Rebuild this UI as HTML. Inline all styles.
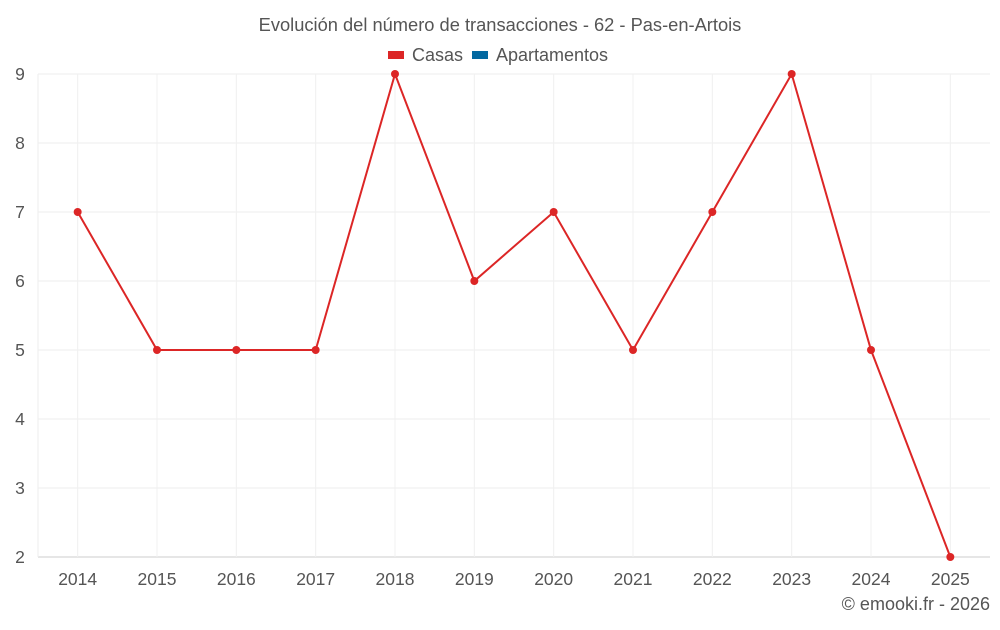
<!DOCTYPE html>
<html><head><meta charset="utf-8"><style>
body{margin:0;background:#fff;font-family:"Liberation Sans",sans-serif;}
svg text{font-family:"Liberation Sans",sans-serif;fill:#555;}
</style></head><body>
<svg id="c" width="1000" height="625">
<text x="500" y="31" text-anchor="middle" font-size="18.3">Evolución del número de transacciones - 62 - Pas-en-Artois</text>
<g>
<g><rect x="388" y="51" width="16" height="8" fill="#dc2626"/><text x="412" y="61" font-size="18">Casas</text></g>
<g><rect x="472" y="51" width="16" height="8" fill="#0369a1"/><text x="496" y="61" font-size="18">Apartamentos</text></g>
</g>
<g id="grid"></g><g id="axes"></g><g id="series"></g>
<text x="990" y="610" text-anchor="end" font-size="18">© emooki.fr - 2026</text>
</svg>
<script>
const years=["2014","2015","2016","2017","2018","2019","2020","2021","2022","2023","2024","2025"];
const casas=[7,5,5,5,9,6,7,5,7,9,5,2];
const yTicks=[2,3,4,5,6,7,8,9];
const L=38,R=990,T=74,B=557,yMin=2,yMax=9;
const bw=(R-L)/years.length;
const x=i=>L+bw*(i+0.5);
const y=v=>B-(v-yMin)/(yMax-yMin)*(B-T);
const NS="http://www.w3.org/2000/svg";
function mk(tag,attrs,parent){const e=document.createElementNS(NS,tag);for(const k in attrs)e.setAttribute(k,attrs[k]);parent.appendChild(e);return e;}
const grid=document.getElementById('grid'),axes=document.getElementById('axes'),series=document.getElementById('series');
yTicks.forEach(t=>{
 const l=mk('line',{x1:L,x2:R,y1:y(t),y2:y(t),stroke:t===yMin?'#ccc':'#eee'},grid);
 
 
 const tx=mk('text',{x:20,y:y(t)+6,'text-anchor':'middle','font-size':17.5},axes);tx.textContent=t;
 
 
});
years.forEach((yr,i)=>{
 const l=mk('line',{x1:x(i),x2:x(i),y1:T,y2:B,stroke:'#f0f0f0'},grid);
 
 
 const tx=mk('text',{x:x(i),y:585,'text-anchor':'middle','font-size':17.5},axes);tx.textContent=yr;
 
 
});
const la=mk('line',{x1:L,x2:L,y1:T,y2:B,stroke:'#eee'},grid);


const p=mk('polyline',{points:casas.map((v,i)=>x(i)+','+y(v)).join(' '),fill:'none',stroke:'#dc2626','stroke-width':2},series);


casas.forEach((v,i)=>{
 const c=mk('circle',{cx:x(i),cy:y(v),r:4,fill:'#dc2626'},series);
 
 
});
</script>
</body></html>
